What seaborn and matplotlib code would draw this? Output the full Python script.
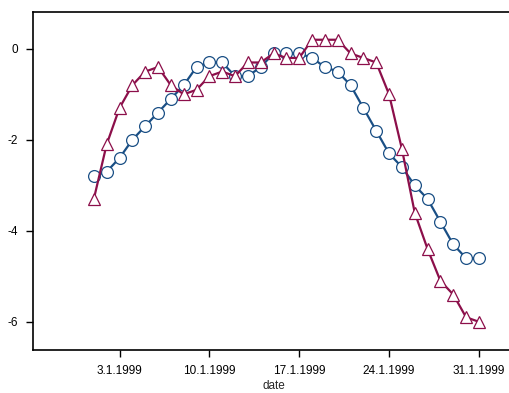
import numpy as np
import pandas as pd
import matplotlib
matplotlib.use("Agg")
import matplotlib.pyplot as plt
import matplotlib.dates as mdates
import seaborn as sns

sns.set_style("white")
plt.rcParams['font.family'] = ['Liberation Sans', 'DejaVu Sans']

dates = pd.date_range("1999-01-01", "1999-01-31", freq="D")
series_blue = [-2.8, -2.7, -2.4, -2.0, -1.7, -1.4, -1.1, -0.8, -0.4, -0.3,
               -0.3, -0.6, -0.6, -0.4, -0.1, -0.1, -0.1, -0.2, -0.4, -0.5,
               -0.8, -1.3, -1.8, -2.3, -2.6, -3.0, -3.3, -3.8, -4.3, -4.6, -4.6]
series_red = [-3.3, -2.1, -1.3, -0.8, -0.5, -0.4, -0.8, -1.0, -0.9, -0.6,
              -0.5, -0.6, -0.3, -0.3, -0.1, -0.2, -0.2, 0.2, 0.2, 0.2,
              -0.1, -0.2, -0.3, -1.0, -2.2, -3.6, -4.4, -5.1, -5.4, -5.9, -6.0]
xtick_dates = ["1999-01-03", "1999-01-10", "1999-01-17", "1999-01-24", "1999-01-31"]
xtick_labels = ["3.1.1999", "10.1.1999", "17.1.1999", "24.1.1999", "31.1.1999"]
yticks = [0, -2, -4, -6]

df = pd.DataFrame({"date": dates, "blue": series_blue, "red": series_red})

blue = "#1a4f85"
red = "#8c0f4a"

fig = plt.figure(figsize=(5.10, 3.93), dpi=100)
ax = fig.add_axes([33 / 510, 1 - 350 / 393, (515 - 33) / 510, (350 - 12) / 393])

sns.lineplot(data=df, x="date", y="blue", ax=ax, color=blue, linewidth=1.6,
             marker="o", markersize=8.5, markerfacecolor="white",
             markeredgecolor=blue, markeredgewidth=0.9)
sns.lineplot(data=df, x="date", y="red", ax=ax, color=red, linewidth=1.6,
             marker="^", markersize=9, markerfacecolor="white",
             markeredgecolor=red, markeredgewidth=0.9)

ax.set_xlim(pd.Timestamp("1998-12-27 06:15"), pd.Timestamp("1999-02-02 19:30"))
ax.set_ylim(-6.62, 0.81)
ax.set_xticks(pd.to_datetime(xtick_dates))
ax.set_xticklabels(xtick_labels)
ax.set_yticks(yticks)
ax.set_yticklabels([str(v) for v in yticks])
ax.set_xlabel("date", fontsize=8.5, labelpad=2)
ax.set_ylabel("")
ax.tick_params(axis="both", direction="out", length=5, width=1, labelsize=8.5,
               colors="black", bottom=True, left=True)
ax.tick_params(axis="y", pad=6)
ax.tick_params(axis="x", pad=6)
for s in ["left", "top", "bottom"]:
    ax.spines[s].set_visible(True)
    ax.spines[s].set_color("black")
    ax.spines[s].set_linewidth(1.2)
ax.spines["right"].set_visible(False)
ax.grid(False)

fig.savefig("out.png", dpi=100)
